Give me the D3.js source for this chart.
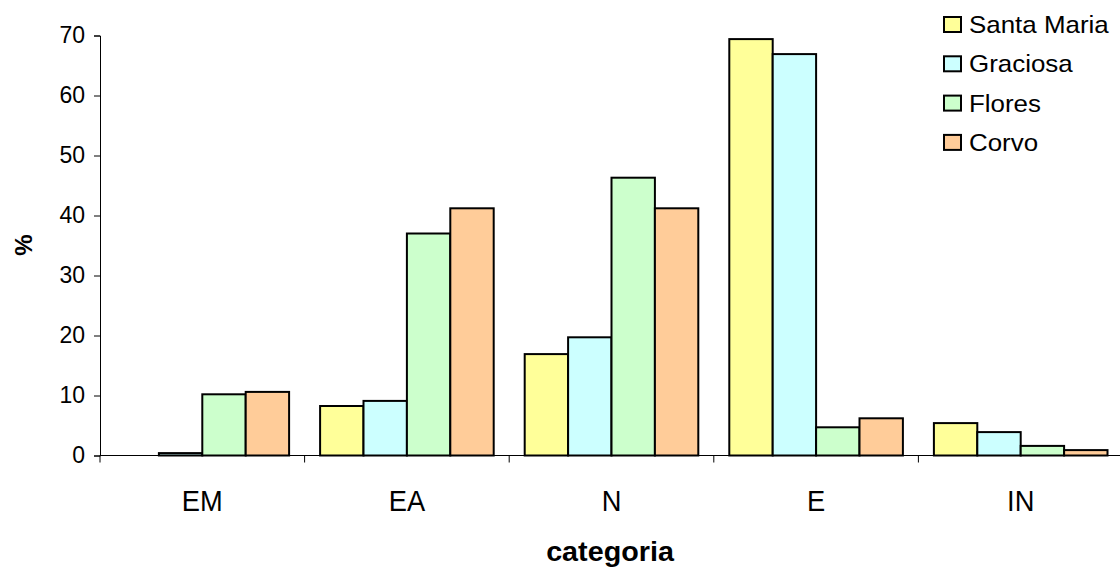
<!DOCTYPE html>
<html><head><meta charset="utf-8">
<script src="https://cdn.jsdelivr.net/npm/d3@7"></script>
<style>body{margin:0;background:#fff}svg{display:block}text{font-family:"Liberation Sans",Arial,sans-serif}</style>
</head><body>
<svg id="c" width="1120" height="568"></svg>
<script>
const categories = ["EM","EA","N","E","IN"];
const seriesNames = ["Santa Maria","Graciosa","Flores","Corvo"];
const santaMaria = [0, 8.25, 16.9, 69.4, 5.4];
const graciosa   = [0.4, 9.1, 19.7, 66.9, 3.9];
const flores     = [10.2, 37.0, 46.3, 4.7, 1.6];
const corvo      = [10.6, 41.2, 41.2, 6.2, 0.9];
const yTicks = [0,10,20,30,40,50,60,70];
const colors = ["#FFFF99","#CCFFFF","#CCFFCC","#FFCC99"];
const seriesValues = [santaMaria, graciosa, flores, corvo];

const svg = d3.select("#c");
const x0 = d3.scaleBand().domain(categories).range([100, 1123]).paddingInner(0).paddingOuter(0);
const y = d3.scaleLinear().domain([0,70]).range([455.5, 35.5]);
const gap = 15.5;
const x1 = d3.scaleBand().domain(seriesNames).range([gap, x0.bandwidth()-gap]);

// bars
categories.forEach((c,ci)=>{
  seriesNames.forEach((s,si)=>{
    const v = seriesValues[si][ci];
    if (v <= 0) return;
    svg.append("rect")
      .attr("x", x0(c)+x1(s)).attr("y", y(v))
      .attr("width", x1.bandwidth()).attr("height", y(0)-y(v))
      .attr("fill", colors[si]).attr("stroke","#000").attr("stroke-width",2);
  });
});

// y axis
const yAxis = d3.axisLeft(y).tickValues(yTicks).tickSize(6).tickPadding(9);
const gy = svg.append("g").attr("transform","translate(100,0)").call(yAxis);
gy.selectAll("text").attr("font-size",23).attr("fill","#000").attr("font-family","Liberation Sans, Arial, sans-serif");
gy.selectAll("line,path").attr("stroke","#000");

// x axis
const gx = svg.append("g").attr("transform",`translate(0,${y(0)})`);
gx.append("line").attr("x1",100).attr("x2",1123).attr("y1",0).attr("y2",0).attr("stroke","#000");
const bounds = categories.map(c=>x0(c)).concat([x0.range()[1]]);
gx.selectAll("line.t").data(bounds).enter().append("line").attr("class","t")
  .attr("x1",d=>d).attr("x2",d=>d).attr("y1",0).attr("y2",7).attr("stroke","#000");
gx.selectAll("text").data(categories).enter().append("text")
  .attr("transform",d=>`translate(${x0(d)+x0.bandwidth()/2},55.5) scale(1.05,1.12)`)
  .attr("text-anchor","middle").attr("font-size",26).text(d=>d);

// axis titles
svg.append("text").attr("transform","translate(610,561) scale(1.15,1.12)").attr("text-anchor","middle")
  .attr("font-size",25).attr("font-weight","bold").text("categoria");
svg.append("text").attr("transform","translate(32,245) rotate(-90)").attr("text-anchor","middle")
  .attr("font-size",24).attr("font-weight","bold").text("%");

// legend
const lg = svg.append("g");
seriesNames.forEach((s,i)=>{
  const cy = 24.5 + i*39.3;
  lg.append("rect").attr("x",944).attr("y",cy-7.5).attr("width",17).attr("height",15)
    .attr("fill",colors[i]).attr("stroke","#000").attr("stroke-width",2);
  lg.append("text").attr("transform",`translate(969,${cy+8.5}) scale(1.08,1)`).attr("font-size",24).text(s);
});
</script>
</body></html>
